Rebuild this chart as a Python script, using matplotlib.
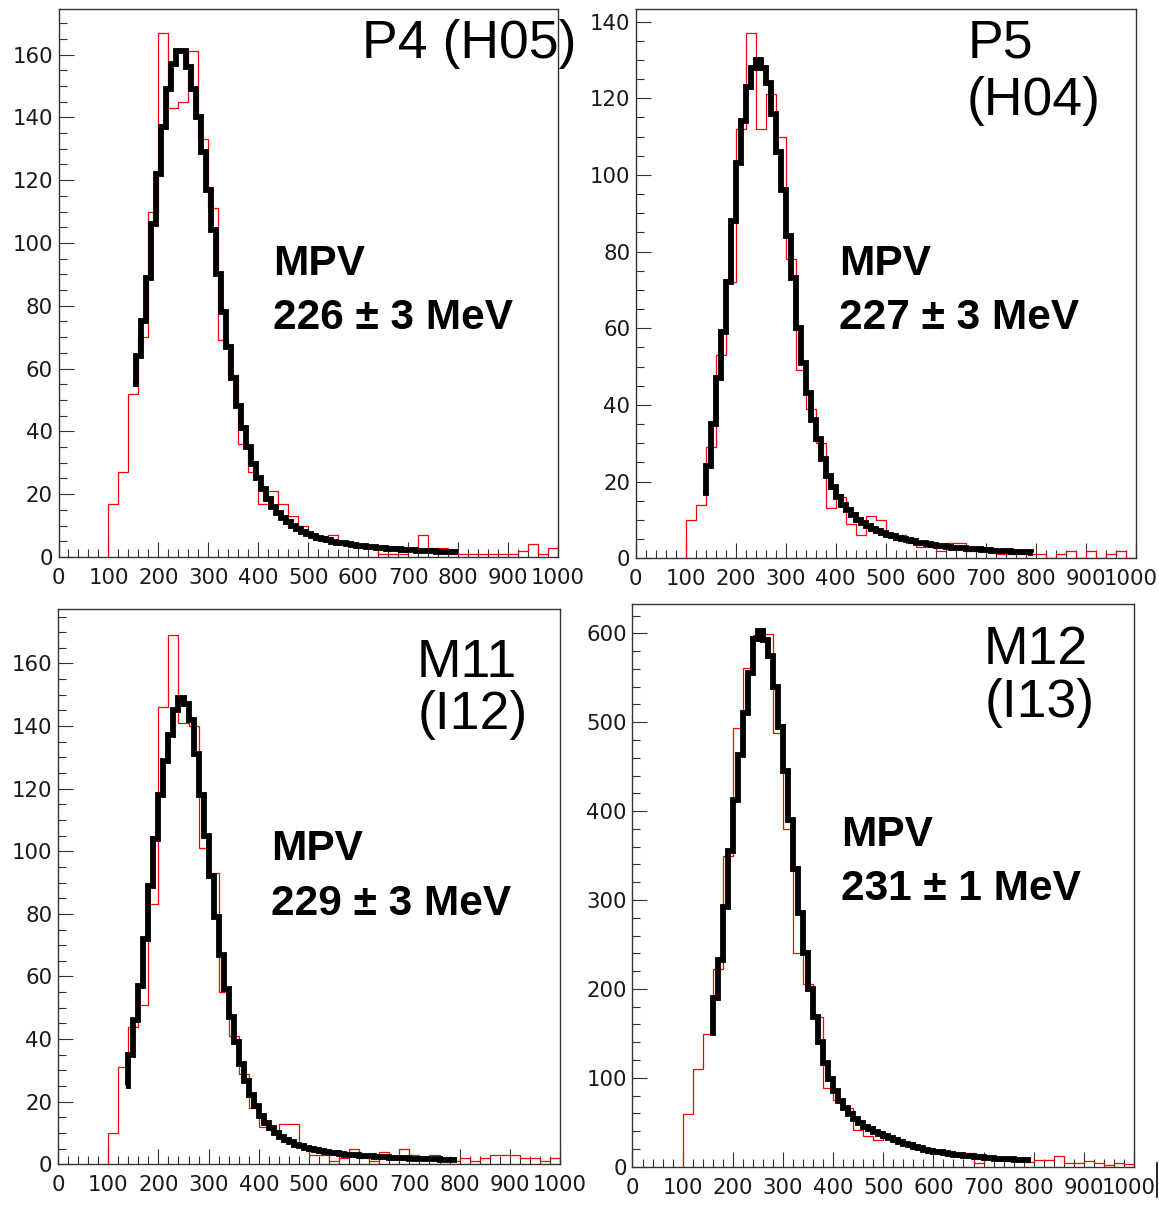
import numpy as np
import matplotlib
matplotlib.use("Agg")
import matplotlib.pyplot as plt
import matplotlib.transforms as mtransforms
from matplotlib.ticker import MultipleLocator
from matplotlib.lines import Line2D

# ---------------- data ----------------
bin_edges = list(range(100, 1001, 20))   # MeV, 45 bins of 20 MeV

p4_counts = [17, 27, 52, 70, 110, 167, 143, 145, 161, 133,
             111, 69, 58, 36, 27, 17, 21, 17, 13, 10,
             7, 6, 7, 5, 4, 3, 3, 1, 1, 1,
             2, 7, 3, 3, 1, 1, 1, 1, 1, 1,
             1, 2, 4, 1, 3]
p5_counts = [10, 14, 29, 53, 72, 112, 137, 112, 121, 110,
             78, 49, 39, 30, 13, 16, 9, 6, 11, 10,
             6, 6, 4, 3, 3, 2, 4, 4, 2, 3,
             2, 1, 1, 1, 1, 1, 0, 1, 2, 0,
             2, 0, 1, 2, 0]
m11_counts = [10, 31, 44, 51, 83, 146, 169, 141, 140, 101,
              93, 55, 41, 29, 18, 12, 11, 13, 13, 6,
              3, 3, 1, 2, 5, 2, 1, 4, 2, 5,
              3, 2, 3, 2, 1, 2, 1, 2, 3, 3,
              3, 2, 2, 1, 2]
m12_counts = [59, 110, 149, 222, 349, 494, 561, 598, 599, 488,
              380, 240, 206, 168, 88, 75, 66, 41, 34, 30,
              33, 28, 24, 20, 18, 17, 15, 12, 15, 4,
              11, 8, 6, 7, 5, 7, 7, 12, 4, 4,
              6, 4, 2, 4, 3]

# fitted curves, sampled every 10 MeV from the given start energy
fit_step = 10
p4_fit_start = 150
p4_fit = [55, 64, 75, 89, 106, 122, 137, 149, 157, 161,
          161, 156, 149, 140, 129, 117, 104, 90, 78, 67,
          57, 48, 41, 35, 29.5, 25, 21.5, 18.5, 16, 14,
          12.3, 11, 9.8, 8.8, 8, 7.3, 6.7, 6.2, 5.7, 5.3,
          4.9, 4.6, 4.3, 4.0, 3.8, 3.6, 3.4, 3.2, 3.05, 2.9,
          2.75, 2.6, 2.5, 2.4, 2.3, 2.2, 2.1, 2.0, 1.95, 1.9,
          1.8, 1.75, 1.7, 1.65, 1.6, 1.55]
p5_fit_start = 135
p5_fit = [17, 24, 35, 47, 59, 72, 88, 103, 114, 123,
          128, 130, 128, 124, 116, 106, 96, 84, 73, 60,
          51, 43, 36, 31, 26, 21.5, 18.5, 16, 14, 12.5,
          11.2, 10.1, 9.2, 8.4, 7.7, 7.1, 6.6, 6.1, 5.7, 5.3,
          5.0, 4.7, 4.4, 4.1, 3.9, 3.7, 3.5, 3.3, 3.1, 3.0,
          2.8, 2.7, 2.6, 2.5, 2.4, 2.3, 2.2, 2.1, 2.0, 1.9,
          1.85, 1.8, 1.7, 1.65, 1.6, 1.55, 1.5]
m11_fit_start = 135
m11_fit = [25, 35, 46, 57, 72, 89, 104, 118, 129, 137,
           145, 149, 147, 142, 131, 118, 105, 92, 79, 67,
           56, 47, 39, 32, 26.5, 22, 18.5, 15.5, 13.3, 11.5,
           10, 8.8, 7.8, 7, 6.3, 5.7, 5.2, 4.8, 4.5, 4.2,
           3.9, 3.7, 3.5, 3.3, 3.1, 3.0, 2.85, 2.7, 2.6, 2.5,
           2.4, 2.3, 2.2, 2.1, 2.0, 1.95, 1.9, 1.8, 1.75, 1.7,
           1.65, 1.6, 1.55, 1.5, 1.45, 1.4, 1.35]
m12_fit_start = 155
m12_fit = [150, 190, 232, 292, 355, 412, 463, 510, 555, 594,
           603, 592, 575, 540, 495, 445, 390, 335, 285, 240,
           200, 168, 140, 117, 99, 85, 74, 66, 59, 54,
           49, 45, 42, 39, 36.5, 34, 32, 30, 28, 26,
           24, 22, 20.5, 19, 18, 17, 16, 15, 14.2, 13.5,
           12.8, 12.2, 11.6, 11, 10.5, 10, 9.6, 9.2, 8.8, 8.4,
           8.1, 7.8, 7.5, 7.2, 7.0]

panel_names = [["P4 (H05)"], ["P5", "(H04)"], ["M11", "(I12)"], ["M12", "(I13)"]]
mpv_texts = ["226 \u00b1 3 MeV", "227 \u00b1 3 MeV", "229 \u00b1 3 MeV", "231 \u00b1 1 MeV"]

# ---------------- layout (pixels) ----------------
W, H = 1159, 1206
fig = plt.figure(figsize=(W / 100, H / 100), dpi=100)

panels = [
    dict(counts=p4_counts, fit=p4_fit, fit_start=p4_fit_start,
         frame=(58.5, 9, 558, 557), ymax=174.5, ymaj=20, ymin=5,
         names=[(362, 58)], mpv=(273, 275, 329)),
    dict(counts=p5_counts, fit=p5_fit, fit_start=p5_fit_start,
         frame=(635.7, 9, 1135.7, 558.3), ymax=143.3, ymaj=20, ymin=5,
         names=[(968, 58), (967, 115)], mpv=(839, 275, 329)),
    dict(counts=m11_counts, fit=m11_fit, fit_start=m11_fit_start,
         frame=(58, 609, 560, 1164.3), ymax=177.4, ymaj=20, ymin=5,
         names=[(417, 677), (418, 729)], mpv=(271, 860, 915)),
    dict(counts=m12_counts, fit=m12_fit, fit_start=m12_fit_start,
         frame=(632.5, 604, 1134, 1166.7), ymax=633, ymaj=100, ymin=20,
         names=[(984, 664), (985, 717)], mpv=(841, 846, 900)),
]

for i, p in enumerate(panels):
    l, t, r, b = p["frame"]
    ax = fig.add_axes([l / W, 1 - b / H, (r - l) / W, (b - t) / H])
    ax.stairs(p["counts"], bin_edges, baseline=0, color="#ff0000", lw=0.9, zorder=2)
    fx = [p["fit_start"] + fit_step * k for k in range(len(p["fit"]))]
    ax.plot(fx, p["fit"], color="black", lw=4.2, drawstyle="steps-mid",
            solid_joinstyle="miter", solid_capstyle="butt", zorder=3)
    ax.set_xlim(0, 1000)
    ax.set_ylim(0, p["ymax"])
    ax.xaxis.set_major_locator(MultipleLocator(100))
    ax.xaxis.set_minor_locator(MultipleLocator(20))
    ax.yaxis.set_major_locator(MultipleLocator(p["ymaj"]))
    ax.yaxis.set_minor_locator(MultipleLocator(p["ymin"]))
    ax.tick_params(which="both", direction="in", top=False, right=False,
                   color="#333333", width=0.8)
    ax.tick_params(which="major", length=11)
    ax.tick_params(which="minor", length=6)
    ax.tick_params(axis="x", pad=8.0, labelsize=15.3, labelcolor="#1a1a1a")
    ax.tick_params(axis="y", pad=4.0, labelsize=15.3, labelcolor="#1a1a1a")
    for s in ax.spines.values():
        s.set_linewidth(1.0)
        s.set_color("#333333")

    # keep the right-most "1000" label inside the figure edge
    if r > W - 30:
        fig.canvas.draw()
        for lab in ax.get_xticklabels():
            if lab.get_text() == "1000":
                lab.set_transform(lab.get_transform() +
                                  mtransforms.ScaledTranslation(-5 / 100, 0, fig.dpi_scale_trans))

    for (nx, ny), txt in zip(p["names"], panel_names[i]):
        fig.text(nx / W, 1 - ny / H, txt, fontsize=38.5, family="Liberation Sans",
                 ha="left", va="baseline", color="black")
    mx, my1, my2 = p["mpv"]
    fig.text(mx / W, 1 - my1 / H, "MPV", fontsize=30.5, family="Liberation Sans",
             weight="bold", ha="left", va="baseline")
    fig.text(mx / W, 1 - my2 / H, mpv_texts[i], fontsize=30.5, family="Liberation Sans",
             weight="bold", ha="left", va="baseline")

fig.add_artist(Line2D([1157 / W, 1157 / W], [1 - 1163 / H, 1 - 1197 / H],
                      color="black", lw=1.2))

fig.savefig("out.png", dpi=100)
